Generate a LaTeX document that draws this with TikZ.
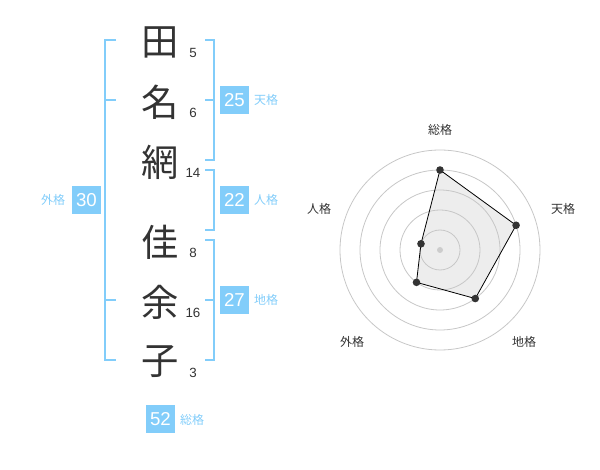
\documentclass[tikz,border=0pt]{standalone}
\usepackage{fontspec}
\setmainfont{Liberation Sans}
\newfontfamily\jp{Noto Sans CJK JP}
\definecolor{kaku}{HTML}{82CDFA}
\definecolor{ink}{HTML}{333333}
\tikzset{
  kanji/.style={font=\jp\fontsize{28}{28}\selectfont, text=ink, inner sep=0},
  stroke/.style={font=\fontsize{10}{10}\selectfont, text=ink, inner sep=0},
  kbox/.style={fill=kaku, text=white, minimum width=21.75pt, minimum height=21pt, inner sep=0, font=\fontsize{14}{14}\selectfont},
  klabel/.style={font=\jp\fontsize{9}{9}\selectfont, text=kaku, inner sep=0},
  bracket/.style={draw=kaku, line width=1.5pt},
  axis/.style={font=\jp\fontsize{9}{9}\selectfont, text=ink, inner sep=0},
}
\begin{document}
\begin{tikzpicture}[x=0.75pt,y=-0.75pt]
\useasboundingbox (0,0) rectangle (600,470);
% name
\node[kanji] (c1) at (160,42) {田};
\node[kanji] (c2) at (160,102) {名};
\node[kanji] (c3) at (160,162) {網};
\node[kanji] (c4) at (160,242) {佳};
\node[kanji] (c5) at (160,302) {余};
\node[kanji] (c6) at (160,362) {子};
\node[stroke] (s1) at (193,53) {5};
\node[stroke] (s2) at (193,113) {6};
\node[stroke] (s3) at (193,173) {14};
\node[stroke] (s4) at (193,253) {8};
\node[stroke] (s5) at (193,313) {16};
\node[stroke] (s6) at (193,373) {3};
% brackets
\draw[bracket] (116,40) -- (105,40) -- (105,360) -- (116,360);
\draw[bracket] (105,100) -- (116,100) (105,300) -- (116,300);
\draw[bracket] (205,40) -- (214,40) -- (214,160) -- (205,160) (205,100) -- (214,100);
\draw[bracket] (205,170) -- (214,170) -- (214,230) -- (205,230);
\draw[bracket] (205,240) -- (214,240) -- (214,360) -- (205,360) (205,300) -- (214,300);
% totals
\node[kbox] (gai) at (86.5,200) {30};
\node[klabel] (lgai) at (53,200) {外格};
\node[kbox] (ten) at (234.5,100) {25};
\node[klabel] (lten) at (266,100) {天格};
\node[kbox] (jin) at (234.5,200) {22};
\node[klabel] (ljin) at (266,200) {人格};
\node[kbox] (chi) at (234.5,300) {27};
\node[klabel] (lchi) at (266,300) {地格};
\node[kbox] (sou) at (160.5,419) {52};
\node[klabel] (lsou) at (192,420) {総格};
% radar
\begin{scope}[shift={(440,250)}]
\coordinate (psou) at (-90:80);
\coordinate (pten) at (-18:80);
\coordinate (pchi) at (54:60);
\coordinate (pgai) at (126:40);
\coordinate (pjin) at (198:20);
\fill[black!7] (psou) -- (pten) -- (pchi) -- (pgai) -- (pjin) -- cycle;
\foreach \r in {20,40,...,100}
  \draw[black!22, line width=0.6pt] (0,0) circle [radius=\r];
\draw[line width=0.6pt] (psou) -- (pten) -- (pchi) -- (pgai) -- (pjin) -- cycle;
\foreach \p in {psou,pten,pchi,pgai,pjin}
  \fill[ink] (\p) circle [radius=3.8];
\fill[black!20] (0,0) circle [radius=3];
\node[axis] (asou) at (0,-120) {総格};
\node[axis] (aten) at (123,-41) {天格};
\node[axis] (achi) at (84,92) {地格};
\node[axis] (agai) at (-88,92) {外格};
\node[axis] (ajin) at (-121,-41) {人格};
\end{scope}
\end{tikzpicture}
\end{document}
